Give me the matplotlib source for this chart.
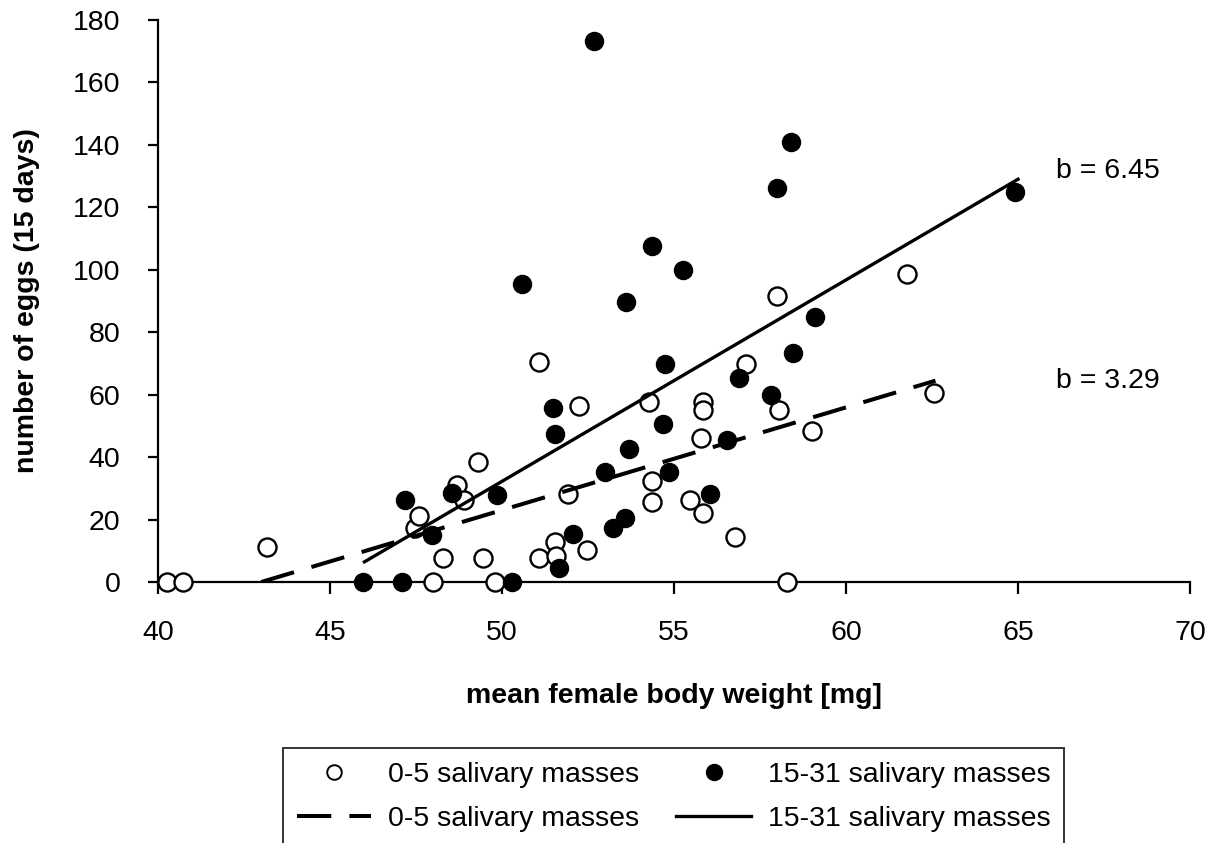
import matplotlib
matplotlib.use("Agg")
import matplotlib.pyplot as plt
import numpy as np
from matplotlib.lines import Line2D

plt.rcParams['font.family'] = ['Liberation Sans', 'DejaVu Sans']

# 0-5 salivary masses (open circles)
open_x = [40.26, 40.73, 43.16, 47.47, 47.6, 47.98, 48.29, 48.68, 48.88, 49.31,
          49.44, 49.8, 51.08, 51.08, 51.54, 51.57, 51.93, 52.25, 52.46, 54.27,
          54.35, 54.35, 55.47, 55.78, 55.83, 55.83, 55.85, 56.77, 57.09, 57.98,
          58.06, 58.27, 59.0, 61.78, 62.56]
open_y = [0, 0, 11.1, 17.4, 21.1, 0, 7.8, 31.0, 26.3, 38.3,
          7.8, 0, 70.4, 7.8, 12.9, 8.3, 28.1, 56.4, 10.2, 57.7,
          32.3, 25.7, 26.3, 46.2, 57.8, 55.1, 22.2, 14.5, 69.8, 91.6,
          55.1, 0, 48.4, 98.7, 60.4]

# 15-31 salivary masses (filled circles)
fill_x = [45.97, 47.08, 47.18, 47.96, 48.54, 49.84, 50.28, 50.59, 51.49, 51.54,
          51.67, 52.07, 52.66, 53.0, 53.22, 53.58, 53.59, 53.7, 54.37, 54.69,
          54.74, 54.86, 55.27, 56.05, 56.55, 56.9, 57.81, 58.0, 58.4, 58.47,
          59.11, 64.92]
fill_y = [0, 0, 26.3, 15.1, 28.4, 27.9, 0, 95.5, 55.6, 47.4,
          4.4, 15.3, 173.4, 35.3, 17.4, 20.4, 89.6, 42.6, 107.6, 50.5,
          69.8, 35.3, 99.9, 28.1, 45.5, 65.2, 59.9, 126.1, 140.8, 73.4,
          84.9, 124.8]

# regression lines: y = b * (x - x0)
b_open, x0_open, range_open = 3.29, 43.0, (43.0, 62.6)
b_fill, x0_fill, range_fill = 6.45, 45.0, (46.0, 65.0)

FS = 20.5
DASH = (8.5, 4.5)

fig = plt.figure(figsize=(12.1, 8.43), dpi=100)
ax = fig.add_axes([0.1306, 0.3096, 0.8529, 0.6667])

ax.plot(open_x, open_y, 'o', ms=13, mfc='white', mec='black', mew=1.7,
        clip_on=False, zorder=3)
ax.plot(fill_x, fill_y, 'o', ms=13, mfc='black', mec='black', mew=1.0,
        clip_on=False, zorder=3)

xo = np.array(range_open)
xf = np.array(range_fill)
ax.plot(xo, b_open * (xo - x0_open), color='black', lw=2.9,
        dashes=DASH, zorder=4)
ax.plot(xf, b_fill * (xf - x0_fill), color='black', lw=2.4, zorder=4)

ax.text(66.1, 131.5, 'b = 6.45', fontsize=FS, va='center', ha='left')
ax.text(66.1, 64.5, 'b = 3.29', fontsize=FS, va='center', ha='left')

ax.set_xlim(40, 70)
ax.set_ylim(0, 180)
ax.set_xticks(np.arange(40, 71, 5))
ax.set_yticks(np.arange(0, 181, 20))
ax.spines['top'].set_visible(False)
ax.spines['right'].set_visible(False)
for s in ['left', 'bottom']:
    ax.spines[s].set_linewidth(1.6)
ax.tick_params(axis='both', labelsize=FS, width=1.6, direction='out')
ax.tick_params(axis='x', length=8.5, pad=19)
ax.tick_params(axis='y', length=7, pad=20)

ax.set_xlabel('mean female body weight [mg]', fontsize=FS, fontweight='bold')
ax.set_ylabel('number of eggs (15 days)', fontsize=FS, fontweight='bold')
ax.xaxis.set_label_coords(0.5, (582 - 696) / 562)
ax.yaxis.set_label_coords((27 - 158) / 1032, 0.5)
ax.xaxis.label.set_va('center')
ax.yaxis.label.set_va('center')

handles = [
    Line2D([], [], ls='none', marker='o', ms=10.5, mfc='white', mec='black', mew=1.4),
    Line2D([], [], color='black', lw=2.9, dashes=DASH),
    Line2D([], [], ls='none', marker='o', ms=11.5, mfc='black', mec='black'),
    Line2D([], [], color='black', lw=2.4),
]
labels = ['0-5 salivary masses', '0-5 salivary masses',
          '15-31 salivary masses', '15-31 salivary masses']
leg = fig.legend(handles, labels, ncol=2, loc='upper left',
                 bbox_to_anchor=(283 / 1210, 1 - 748 / 843), borderaxespad=0,
                 fontsize=FS, frameon=True, fancybox=False, edgecolor='black',
                 handlelength=2.6, columnspacing=1.3, handletextpad=0.6,
                 borderpad=0.5, labelspacing=0.62)
leg.get_frame().set_linewidth(1.4)

fig.savefig('out.png', dpi=100)
